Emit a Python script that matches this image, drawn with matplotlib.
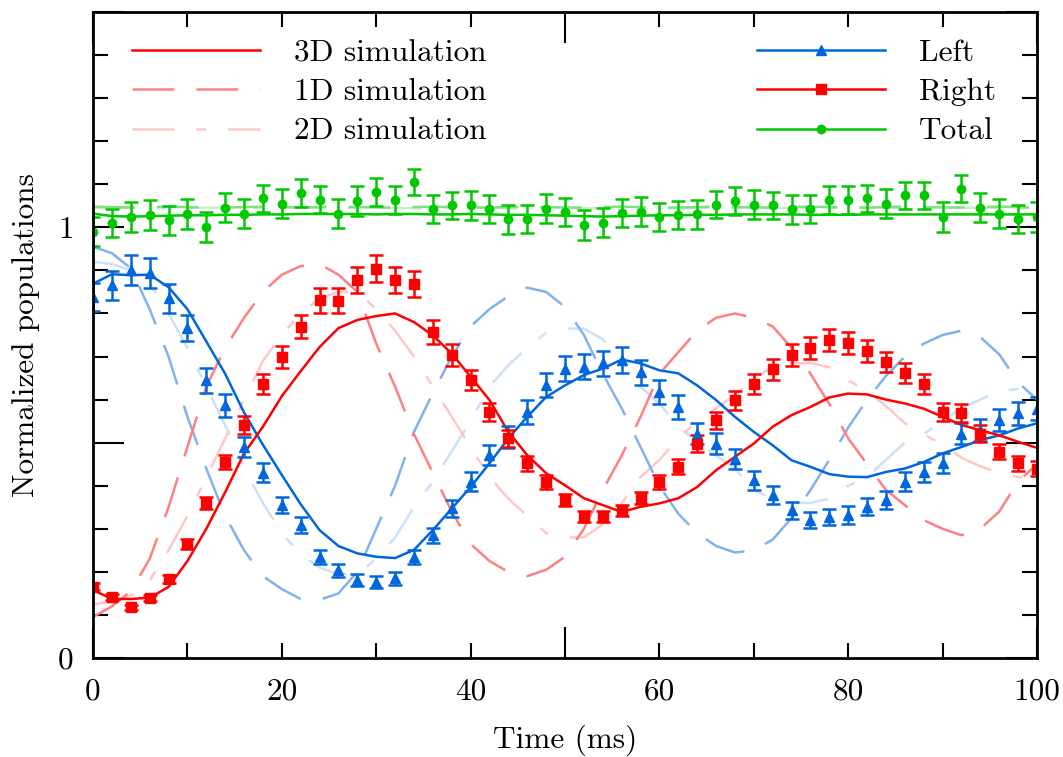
import numpy as np
import matplotlib
matplotlib.use("Agg")
import matplotlib.pyplot as plt
from matplotlib.ticker import FixedLocator, FuncFormatter
from matplotlib.lines import Line2D

plt.rcParams['font.family'] = ['cmr10', 'DejaVu Serif']
plt.rcParams['mathtext.fontset'] = 'cm'
plt.rcParams['axes.formatter.use_mathtext'] = True
plt.rcParams['lines.scale_dashes'] = False

# ---------------- data ----------------
t_exp = list(range(0, 101, 2))

left_exp = [0.838, 0.865, 0.900, 0.893, 0.835, 0.766, 0.645, 0.587, 0.490, 0.430,
            0.355, 0.309, 0.235, 0.204, 0.181, 0.177, 0.185, 0.235, 0.285, 0.348,
            0.409, 0.471, 0.513, 0.571, 0.633, 0.672, 0.676, 0.684, 0.691, 0.664,
            0.618, 0.583, 0.521, 0.498, 0.463, 0.413, 0.378, 0.343, 0.320, 0.328,
            0.332, 0.351, 0.367, 0.409, 0.432, 0.452, 0.521, 0.529, 0.552, 0.568,
            0.579]
left_err = [0.033, 0.034, 0.035, 0.035, 0.033, 0.031, 0.029, 0.027, 0.024, 0.022,
            0.019, 0.018, 0.016, 0.015, 0.014, 0.014, 0.015, 0.016, 0.018, 0.020,
            0.022, 0.024, 0.025, 0.027, 0.028, 0.029, 0.029, 0.030, 0.030, 0.029,
            0.028, 0.027, 0.025, 0.024, 0.023, 0.022, 0.021, 0.020, 0.019, 0.019,
            0.020, 0.020, 0.021, 0.022, 0.023, 0.023, 0.025, 0.025, 0.026, 0.026,
            0.027]

right_exp = [0.165, 0.141, 0.118, 0.139, 0.183, 0.265, 0.359, 0.455, 0.541, 0.637,
             0.699, 0.769, 0.831, 0.829, 0.877, 0.904, 0.877, 0.869, 0.757, 0.703,
             0.645, 0.571, 0.510, 0.452, 0.409, 0.367, 0.328, 0.328, 0.343, 0.371,
             0.409, 0.444, 0.498, 0.552, 0.599, 0.637, 0.670, 0.703, 0.720, 0.738,
             0.732, 0.713, 0.687, 0.662, 0.637, 0.571, 0.568, 0.521, 0.479, 0.452,
             0.440]
right_err = [0.008, 0.007, 0.006, 0.007, 0.009, 0.011, 0.014, 0.017, 0.020, 0.023,
             0.025, 0.027, 0.029, 0.029, 0.030, 0.031, 0.030, 0.030, 0.027, 0.025,
             0.023, 0.021, 0.019, 0.017, 0.016, 0.014, 0.013, 0.013, 0.013, 0.014,
             0.016, 0.017, 0.019, 0.020, 0.022, 0.023, 0.024, 0.025, 0.025, 0.026,
             0.026, 0.025, 0.024, 0.024, 0.023, 0.021, 0.021, 0.019, 0.018, 0.017,
             0.017]

total_exp = [0.990, 1.010, 1.024, 1.028, 1.016, 1.030, 1.001, 1.046, 1.032, 1.067,
             1.055, 1.080, 1.064, 1.032, 1.061, 1.082, 1.063, 1.105, 1.043, 1.051,
             1.051, 1.043, 1.019, 1.019, 1.043, 1.036, 1.005, 1.011, 1.033, 1.036,
             1.024, 1.028, 1.030, 1.053, 1.061, 1.053, 1.051, 1.042, 1.043, 1.064,
             1.064, 1.067, 1.055, 1.074, 1.074, 1.024, 1.090, 1.046, 1.032, 1.020,
             1.024]
total_err = [0.034, 0.033, 0.034, 0.035, 0.034, 0.035, 0.035, 0.034, 0.033, 0.031,
             0.033, 0.032, 0.031, 0.033, 0.034, 0.032, 0.033, 0.031, 0.033, 0.032,
             0.034, 0.033, 0.034, 0.033, 0.034, 0.033, 0.035, 0.034, 0.033, 0.034,
             0.033, 0.032, 0.033, 0.031, 0.032, 0.033, 0.032, 0.034, 0.033, 0.032,
             0.033, 0.032, 0.033, 0.031, 0.032, 0.034, 0.032, 0.033, 0.034, 0.033,
             0.034]

t_sim = list(range(0, 101, 2))

left_3d = [0.869, 0.891, 0.889, 0.890, 0.861, 0.810, 0.735, 0.660, 0.570, 0.495,
           0.425, 0.357, 0.297, 0.260, 0.243, 0.235, 0.232, 0.251, 0.297, 0.347,
           0.397, 0.452, 0.510, 0.560, 0.606, 0.633, 0.657, 0.672, 0.693, 0.684,
           0.668, 0.661, 0.633, 0.599, 0.560, 0.525, 0.494, 0.459, 0.444, 0.427,
           0.421, 0.420, 0.432, 0.440, 0.455, 0.475, 0.490, 0.506, 0.517, 0.533,
           0.545]
right_3d = [0.158, 0.137, 0.137, 0.140, 0.165, 0.225, 0.300, 0.385, 0.475, 0.537,
            0.608, 0.666, 0.722, 0.766, 0.785, 0.794, 0.800, 0.780, 0.749, 0.707,
            0.653, 0.599, 0.525, 0.471, 0.429, 0.401, 0.371, 0.355, 0.339, 0.351,
            0.359, 0.371, 0.397, 0.436, 0.467, 0.498, 0.537, 0.564, 0.583, 0.605,
            0.614, 0.612, 0.600, 0.591, 0.579, 0.560, 0.541, 0.529, 0.517, 0.502,
            0.488]
total_3d = [1.032, 1.026, 1.025, 1.026, 1.027, 1.028, 1.028, 1.029, 1.029, 1.030,
            1.030, 1.031, 1.031, 1.031, 1.031, 1.030, 1.031, 1.031, 1.030, 1.030,
            1.031, 1.030, 1.029, 1.029, 1.028, 1.027, 1.026, 1.025, 1.026, 1.027,
            1.028, 1.028, 1.029, 1.029, 1.030, 1.030, 1.030, 1.030, 1.029, 1.029,
            1.029, 1.030, 1.030, 1.030, 1.030, 1.030, 1.030, 1.030, 1.030, 1.030,
            1.030]

left_1d = [0.955, 0.940, 0.905, 0.810, 0.700, 0.560, 0.440, 0.330, 0.250, 0.190,
           0.160, 0.137, 0.135, 0.150, 0.200, 0.300, 0.400, 0.525, 0.615, 0.700,
           0.770, 0.810, 0.840, 0.860, 0.850, 0.815, 0.750, 0.660, 0.580, 0.490,
           0.400, 0.335, 0.290, 0.260, 0.245, 0.250, 0.275, 0.325, 0.390, 0.460,
           0.535, 0.600, 0.655, 0.700, 0.730, 0.750, 0.760, 0.745, 0.705, 0.640,
           0.600]
right_1d = [0.095, 0.120, 0.155, 0.230, 0.350, 0.490, 0.630, 0.720, 0.790, 0.850,
            0.890, 0.910, 0.915, 0.890, 0.850, 0.730, 0.630, 0.520, 0.430, 0.340,
            0.265, 0.225, 0.200, 0.190, 0.205, 0.235, 0.300, 0.390, 0.470, 0.560,
            0.660, 0.710, 0.760, 0.790, 0.800, 0.790, 0.770, 0.720, 0.660, 0.590,
            0.510, 0.450, 0.390, 0.355, 0.320, 0.300, 0.285, 0.300, 0.340, 0.410,
            0.450]
total_1d = [1.048, 1.047, 1.046, 1.047, 1.048, 1.047, 1.046, 1.046, 1.047, 1.048,
            1.047, 1.046, 1.047, 1.048, 1.047, 1.046, 1.046, 1.047, 1.048, 1.047,
            1.046, 1.046, 1.047, 1.048, 1.047, 1.046, 1.046, 1.047, 1.048, 1.047,
            1.046, 1.046, 1.047, 1.048, 1.047, 1.046, 1.046, 1.047, 1.048, 1.047,
            1.046, 1.046, 1.047, 1.048, 1.047, 1.046, 1.046, 1.047, 1.048, 1.047,
            1.046]

left_2d = [0.920, 0.915, 0.900, 0.870, 0.800, 0.720, 0.630, 0.540, 0.440, 0.360,
           0.290, 0.240, 0.210, 0.195, 0.195, 0.230, 0.280, 0.350, 0.410, 0.480,
           0.550, 0.630, 0.680, 0.720, 0.755, 0.765, 0.765, 0.740, 0.690, 0.630,
           0.590, 0.540, 0.500, 0.470, 0.440, 0.390, 0.370, 0.360, 0.360, 0.370,
           0.400, 0.420, 0.460, 0.500, 0.520, 0.550, 0.580, 0.600, 0.620, 0.625,
           0.620]
right_2d = [0.125, 0.130, 0.145, 0.180, 0.250, 0.330, 0.420, 0.510, 0.600, 0.690,
            0.750, 0.800, 0.835, 0.850, 0.850, 0.810, 0.760, 0.700, 0.630, 0.560,
            0.490, 0.420, 0.370, 0.330, 0.290, 0.280, 0.280, 0.310, 0.360, 0.420,
            0.460, 0.510, 0.550, 0.580, 0.610, 0.650, 0.675, 0.685, 0.685, 0.675,
            0.645, 0.620, 0.585, 0.545, 0.520, 0.495, 0.465, 0.445, 0.430, 0.420,
            0.420]
total_2d = [1.045, 1.045, 1.046, 1.045, 1.044, 1.045, 1.046, 1.045, 1.044, 1.045,
            1.045, 1.046, 1.045, 1.044, 1.045, 1.046, 1.045, 1.044, 1.045, 1.045,
            1.046, 1.045, 1.044, 1.045, 1.046, 1.045, 1.044, 1.045, 1.045, 1.046,
            1.045, 1.044, 1.045, 1.046, 1.045, 1.044, 1.045, 1.045, 1.046, 1.045,
            1.044, 1.045, 1.046, 1.045, 1.044, 1.045, 1.045, 1.046, 1.045, 1.044,
            1.045]

x_tick_labels = [0, 20, 40, 60, 80, 100]
y_tick_labels = [0, 1]

# ---------------- styles ----------------
BLUE, RED, GREEN = '#0066dd', '#ff0000', '#00c800'
BLUE1, RED1, GREEN1 = '#80b2ee', '#ff8080', '#80e080'
BLUE2, RED2, GREEN2 = '#cce0f8', '#ffc8c8', '#c8f0c8'
DASH_1D = (0, (30, 16))
DASH_2D = (0, (30, 16, 7, 16))
FS = 22.5
LW = 1.8
MS = 6.5

fig = plt.figure(figsize=(10.63, 7.57), dpi=100)
ax = fig.add_axes([93 / 1063, 99 / 757, 944 / 1063, 646 / 757])

for c, y in [(BLUE2, left_2d), (RED2, right_2d), (GREEN2, total_2d)]:
    ax.plot(t_sim, y, color=c, lw=LW, linestyle=DASH_2D)
for c, y in [(BLUE1, left_1d), (RED1, right_1d), (GREEN1, total_1d)]:
    ax.plot(t_sim, y, color=c, lw=LW, linestyle=DASH_1D)
for c, y in [(BLUE, left_3d), (RED, right_3d), (GREEN, total_3d)]:
    ax.plot(t_sim, y, color=c, lw=LW)

ax.errorbar(t_exp, left_exp, yerr=left_err, fmt='^', color=BLUE, ms=MS,
            elinewidth=1.8, capsize=5, capthick=1.8)
ax.errorbar(t_exp, right_exp, yerr=right_err, fmt='s', color=RED, ms=MS,
            elinewidth=1.8, capsize=5, capthick=1.8)
ax.errorbar(t_exp, total_exp, yerr=total_err, fmt='o', color=GREEN, ms=MS - 0.5,
            elinewidth=1.8, capsize=5, capthick=1.8)

ax.set_xlim(0, 100)
ax.set_ylim(0, 1.5)

ax.xaxis.set_major_locator(FixedLocator([0, 50, 100]))
ax.xaxis.set_minor_locator(FixedLocator(np.arange(0, 101, 10)))
ax.yaxis.set_major_locator(FixedLocator([0, 0.5, 1.0, 1.5]))
ax.yaxis.set_minor_locator(FixedLocator(np.round(np.arange(0, 1.51, 0.1), 2)))

def xfmt(v, p):
    r = int(round(v))
    return str(r) if r in x_tick_labels and abs(v - r) < 1e-6 else ''

def yfmt(v, p):
    r = int(round(v))
    return str(r) if r in y_tick_labels and abs(v - r) < 1e-6 else ''

ax.xaxis.set_major_formatter(FuncFormatter(xfmt))
ax.xaxis.set_minor_formatter(FuncFormatter(xfmt))
ax.yaxis.set_major_formatter(FuncFormatter(yfmt))
ax.yaxis.set_minor_formatter(FuncFormatter(yfmt))

ax.tick_params(which='both', direction='in', top=True, right=True,
               width=1.5, labelsize=FS, colors='black')
ax.tick_params(which='major', length=22)
ax.tick_params(which='minor', length=11)
ax.tick_params(axis='x', which='both', pad=14)
ax.tick_params(axis='y', which='both', pad=14)
for s in ax.spines.values():
    s.set_linewidth(2.0)

ax.set_xlabel('Time (ms)', fontsize=FS, labelpad=14)
ax.set_ylabel('Normalized populations', fontsize=FS, labelpad=13)

h_left = [Line2D([], [], color=RED, lw=LW),
          Line2D([], [], color=RED1, lw=LW, linestyle=DASH_1D),
          Line2D([], [], color=RED2, lw=LW, linestyle=DASH_2D)]
leg1 = ax.legend(h_left, ['3D simulation', '1D simulation', '2D simulation'],
                 loc='upper left', bbox_to_anchor=(0.041, 0.958), frameon=False,
                 fontsize=FS, handlelength=4.1, handletextpad=1.1,
                 labelspacing=0.36, borderaxespad=0, borderpad=0)
ax.add_artist(leg1)

h_right = [Line2D([], [], color=BLUE, lw=LW, marker='^', ms=MS),
           Line2D([], [], color=RED, lw=LW, marker='s', ms=MS),
           Line2D([], [], color=GREEN, lw=LW, marker='o', ms=MS - 0.5)]
ax.legend(h_right, ['Left', 'Right', 'Total'], loc='upper left',
          bbox_to_anchor=(0.703, 0.958), frameon=False, fontsize=FS,
          handlelength=4.1, handletextpad=1.1, labelspacing=0.36,
          borderaxespad=0, borderpad=0, numpoints=1)

fig.savefig('out.png', dpi=100)
